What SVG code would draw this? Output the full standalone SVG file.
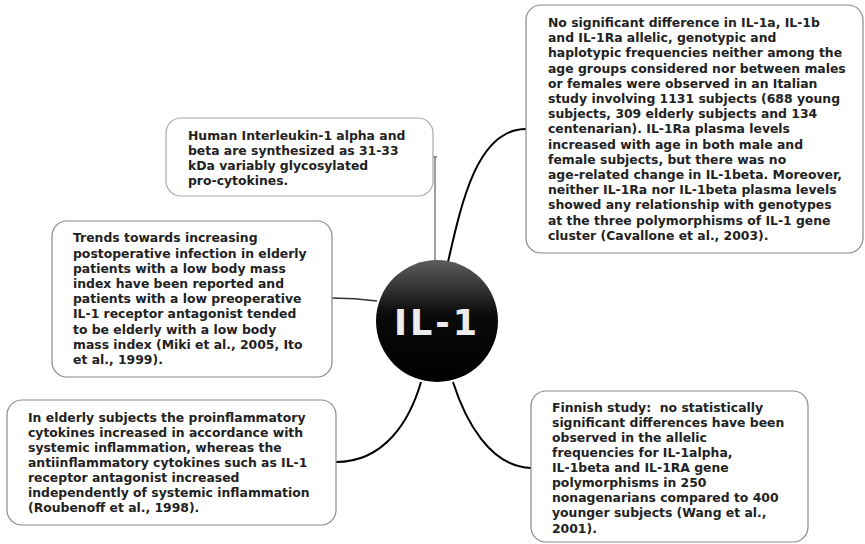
<svg xmlns="http://www.w3.org/2000/svg" width="865" height="544" viewBox="0 0 865 544">
<style>
.box{fill:#fff;stroke:#8a8a8a;stroke-width:1.2}
.t{font-family:"DejaVu Sans","Verdana",sans-serif;font-weight:bold;font-size:12.4px;fill:#222}
.c{fill:none;stroke:#000;stroke-width:2}
.g{fill:none;stroke:#777;stroke-width:1.4}
</style>
<defs>
<linearGradient id="hub" x1="0" y1="0" x2="0" y2="1">
<stop offset="0" stop-color="#5e5e5e"/>
<stop offset="0.45" stop-color="#0a0a0a"/>
<stop offset="1" stop-color="#000"/>
</linearGradient>
</defs>
<rect width="865" height="544" fill="#fff"/>
<g id="connectors">
<path class="g" d="M433,157 H437 M435,157 V261"/>
<path class="c" d="M448,262 C462,200 478,129 526,129"/>
<path class="g" d="M332,298 Q355,298 377,301" style="stroke:#333"/>
<path class="c" d="M421,382 C410,420 385,462 336,462"/>
<path class="c" d="M453,382 C465,420 490,467 531,468"/>
</g>
<g id="hub-node">
<circle cx="437" cy="321" r="61" fill="url(#hub)"/>
<text x="437" y="335" text-anchor="middle" style="font-family:'DejaVu Sans',Verdana,sans-serif;font-weight:bold;font-size:35px;letter-spacing:3px;fill:#ececec">IL-1</text>
</g>
<g id="node-human">
<rect class="box" x="166" y="118" width="267" height="78" rx="15" style="stroke:#aaa"/>
<text class="t" x="188" y="139.5"><tspan x="188">Human Interleukin-1 alpha and</tspan><tspan x="188" dy="15">beta are synthesized as 31-33</tspan><tspan x="188" dy="15">kDa variably glycosylated</tspan><tspan x="188" dy="15">pro-cytokines.</tspan></text>
</g>
<g id="node-italian">
<rect class="box" x="526" y="5" width="337" height="248" rx="15"/>
<text class="t" x="548" y="27"><tspan x="548">No significant difference in IL-1a, IL-1b</tspan><tspan x="548" dy="15.2">and IL-1Ra allelic, genotypic and</tspan><tspan x="548" dy="15.2">haplotypic frequencies neither among the</tspan><tspan x="548" dy="15.2">age groups considered nor between males</tspan><tspan x="548" dy="15.2">or females were observed in an Italian</tspan><tspan x="548" dy="15.2">study involving 1131 subjects (688 young</tspan><tspan x="548" dy="15.2">subjects, 309 elderly subjects and 134</tspan><tspan x="548" dy="15.2">centenarian). IL-1Ra plasma levels</tspan><tspan x="548" dy="15.2">increased with age in both male and</tspan><tspan x="548" dy="15.2">female subjects, but there was no</tspan><tspan x="548" dy="15.2">age-related change in IL-1beta. Moreover,</tspan><tspan x="548" dy="15.2">neither IL-1Ra nor IL-1beta plasma levels</tspan><tspan x="548" dy="15.2">showed any relationship with genotypes</tspan><tspan x="548" dy="15.2">at the three polymorphisms of IL-1 gene</tspan><tspan x="548" dy="15.2">cluster (Cavallone et al., 2003).</tspan></text>
</g>
<g id="node-trends">
<rect class="box" x="52" y="221" width="280" height="156" rx="15"/>
<text class="t" x="73" y="242.3"><tspan x="73">Trends towards increasing</tspan><tspan x="73" dy="15.2">postoperative infection in elderly</tspan><tspan x="73" dy="15.2">patients with a low body mass</tspan><tspan x="73" dy="15.2">index have been reported and</tspan><tspan x="73" dy="15.2">patients with a low preoperative</tspan><tspan x="73" dy="15.2">IL-1 receptor antagonist tended</tspan><tspan x="73" dy="15.2">to be elderly with a low body</tspan><tspan x="73" dy="15.2">mass index (Miki et al., 2005, Ito</tspan><tspan x="73" dy="15.2">et al., 1999).</tspan></text>
</g>
<g id="node-roubenoff">
<rect class="box" x="7" y="400" width="329" height="125" rx="15"/>
<text class="t" x="28" y="422.3"><tspan x="28">In elderly subjects the proinflammatory</tspan><tspan x="28" dy="15">cytokines increased in accordance with</tspan><tspan x="28" dy="15">systemic inflammation, whereas the</tspan><tspan x="28" dy="15">antiinflammatory cytokines such as IL-1</tspan><tspan x="28" dy="15">receptor antagonist increased</tspan><tspan x="28" dy="15">independently of systemic inflammation</tspan><tspan x="28" dy="15">(Roubenoff et al., 1998).</tspan></text>
</g>
<g id="node-finnish">
<rect class="box" x="531" y="391" width="277" height="151" rx="15"/>
<text class="t" x="552" y="411.7" style="white-space:pre"><tspan x="552">Finnish study:  no statistically</tspan><tspan x="552" dy="15.1">significant differences have been</tspan><tspan x="552" dy="15.1">observed in the allelic</tspan><tspan x="552" dy="15.1">frequencies for IL-1alpha,</tspan><tspan x="552" dy="15.1">IL-1beta and IL-1RA gene</tspan><tspan x="552" dy="15.1">polymorphisms in 250</tspan><tspan x="552" dy="15.1">nonagenarians compared to 400</tspan><tspan x="552" dy="15.1">younger subjects (Wang et al.,</tspan><tspan x="552" dy="15.1">2001).</tspan></text>
</g>
</svg>
